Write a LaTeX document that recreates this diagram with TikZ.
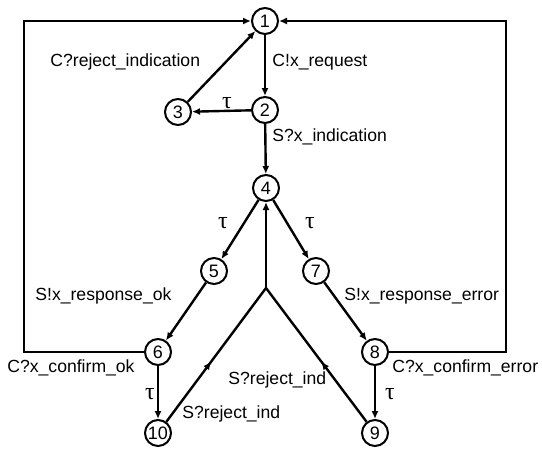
\documentclass[tikz,border=0pt]{standalone}
\usepackage{fontspec}
\setmainfont{Liberation Sans}
\newfontfamily\taufont{Liberation Serif}
\usetikzlibrary{
		calc,
		arrows.meta,
		decorations.markings
	}
\tikzset{
		>={Latex[length=4pt,width=3.5pt]}
	}

\begin{document}
\begin{tikzpicture}[x=0.5pt, y=-0.5pt,
					status/.style={circle, draw, line width=1pt, minimum size=13pt, inner sep=0pt, font=\fontsize{9}{10}\selectfont},
					trans/.style={->, line width=1.2pt},
					frame/.style={->, line width=0.9pt},
					lbl/.style={anchor=west, inner sep=0pt, font=\fontsize{8.8}{10}\selectfont},
					tau/.style={inner sep=0pt, font=\taufont\fontsize{12}{12}\selectfont},
					midarrow/.style={line width=1.2pt, postaction={decorate},
						decoration={markings, mark=at position 0.45 with {\arrow{>}}}}]
		\useasboundingbox (0,0) rectangle (542,450);
		% states
		\node[status] (n1) at (265,21) {1};
		\node[status] (n2) at (265,110) {2};
		\node[status] (n3) at (178,112) {3};
		\node[status] (n4) at (266,188) {4};
		\node[status] (n5) at (214,271) {5};
		\node[status] (n7) at (316,271) {7};
		\node[status] (n6) at (158,352) {6};
		\node[status] (n8) at (375,352) {8};
		\node[status] (n10) at (158,433) {10};
		\node[status] (n9) at (375,433) {9};
		\coordinate (fork) at (266,288);
		\coordinate (lt) at (24,21);
		\coordinate (rt) at (506,21);
		% transitions
		\draw[trans] (n1) -- (n2);
		\draw[trans] (n2) -- (n4);
		\draw[trans] (n2) -- (n3);
		\draw[trans] (n3) -- (n1);
		\draw[trans] (n4) -- (n5);
		\draw[trans] (n4) -- (n7);
		\draw[trans] (n5) -- (n6);
		\draw[trans] (n7) -- (n8);
		\draw[trans] (n6) -- (n10);
		\draw[trans] (n8) -- (n9);
		\draw[midarrow] (n10) -- (fork);
		\draw[midarrow] (n9) -- (fork);
		\draw[trans] (fork) -- (n4);
		\draw[frame] (n6) -| (lt) -- (n1);
		\draw[frame] (n8) -| (rt) -- (n1);
		% labels
		\node[lbl] (l13) at (50,62) {C?reject\_indication};
		\node[lbl] (l12) at (272,62) {C!x\_request};
		\node[tau] (t23) at (227,103) {τ};
		\node[lbl] (l24) at (272,137) {S?x\_indication};
		\node[tau] (t45) at (223,223) {τ};
		\node[tau] (t47) at (310,223) {τ};
		\node[lbl] (l56) at (35,296) {S!x\_response\_ok};
		\node[lbl] (l78) at (344,296) {S!x\_response\_error};
		\node[lbl] (l61) at (7,368) {C?x\_confirm\_ok};
		\node[lbl] (l81) at (392,368) {C?x\_confirm\_error};
		\node[tau] (t610) at (150,394) {τ};
		\node[tau] (t89) at (390,394) {τ};
		\node[lbl] (l94) at (228,380) {S?reject\_ind};
		\node[lbl] (l104) at (182,414) {S?reject\_ind};
	\end{tikzpicture}
\end{document}
